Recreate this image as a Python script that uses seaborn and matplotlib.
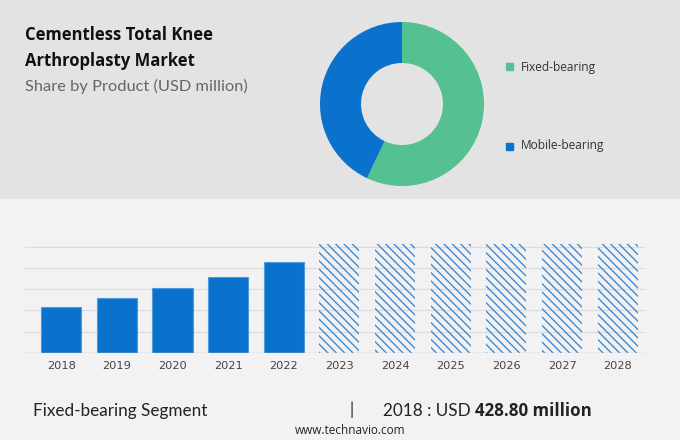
import matplotlib
matplotlib.use("Agg")
import matplotlib.pyplot as plt
import seaborn as sns
import numpy as np

# ---- data ----
years = ["2018", "2019", "2020", "2021", "2022", "2023", "2024", "2025", "2026", "2027", "2028"]
values = [428.8, 514, 608, 718, 860, 1030, 1030, 1030, 1030, 1030, 1030]
n_hist = 5
segments = ["Fixed-bearing", "Mobile-bearing"]
shares = [57, 43]
title_lines = "Cementless Total Knee\nArthroplasty Market"
subtitle = "Share by Product (USD million)"
footer_left = "Fixed-bearing Segment"
footer_year = "2018 : USD "
footer_value = "428.80 million"
source = "www.technavio.com"

BLUE = "#0a72cc"
GREEN = "#55c092"
TOP_BG = "#e3e3e3"
BOT_BG = "#f2f2f3"

sns.set_theme(style="white")
plt.rcParams["hatch.linewidth"] = 0.95

W, H = 680, 440
fig = plt.figure(figsize=(6.8, 4.4), dpi=100)
fig.patch.set_facecolor(BOT_BG)

# top panel background
bg = fig.add_axes([0, 1 - 199 / H, 1, 199 / H])
bg.set_facecolor(TOP_BG)
bg.set_xticks([]); bg.set_yticks([])
for s in bg.spines.values():
    s.set_visible(False)

# titles
fig.text(25 / W, 1 - 48 / H, title_lines, fontsize=12, fontweight="bold",
         family="Open Sans", color="#111111", va="center", ha="left", linespacing=1.5)
fig.text(25 / W, 1 - 86 / H, subtitle, fontsize=11.8, family="Lato",
         color="#666666", va="center", ha="left")

# donut
cx, cy, r = 402, 104, 82
pax = fig.add_axes([(cx - r) / W, 1 - (cy + r) / H, 2 * r / W, 2 * r / H])
pax.pie(shares, colors=[GREEN, BLUE], startangle=90, counterclock=False,
        radius=1, wedgeprops=dict(width=0.5, linewidth=0))
pax.set_xlim(-1, 1); pax.set_ylim(-1, 1)
pax.set_aspect("equal")
pax.axis("off")

# legend
for lab, col, yy in zip(segments, [GREEN, BLUE], [67, 146]):
    fig.patches.append(plt.Rectangle((506 / W, 1 - (yy + 3.5) / H), 7 / W, 7 / H,
                                     transform=fig.transFigure, color=col))
    fig.text(521 / W, 1 - yy / H, lab, fontsize=8.6, family="Open Sans",
             color="#333333", va="center", ha="left")

# bar chart
scale_px = 45.4 / 428.8
ymax = 1100
base_y = 352.7
ax_h = ymax * scale_px
ax = fig.add_axes([25 / W, 1 - base_y / H, 620 / W, ax_h / H])
ax.set_facecolor("none")
sns.barplot(x=years, y=values, color=BLUE, saturation=1, width=0.72, ax=ax, zorder=3)
for i, p in enumerate(ax.patches):
    if i >= n_hist:
        p.set_facecolor("none")
        p.set_edgecolor("#3a86d0")
        p.set_hatch("\\\\\\\\")
        p.set_linewidth(0)
    else:
        p.set_edgecolor("#4a9be0")
        p.set_linewidth(0.8)
ax.set_xlim(-0.65, 10.49)
ax.set_ylim(0, ymax)
for gy in [200, 400, 600, 800, 1000]:
    ax.axhline(gy, color="#dcdcdc", linewidth=0.9, zorder=1)
ax.axhline(0, color="#c8c8c8", linewidth=1.0, zorder=4)
ax.set_yticks([])
ax.set_xlabel(""); ax.set_ylabel("")
ax.tick_params(axis="x", length=0, pad=6, labelsize=8.2, labelcolor="#444444")
for s in ax.spines.values():
    s.set_visible(False)

# footer
fs = 12.3
fig.text(33 / W, 1 - 411 / H, footer_left, fontsize=fs, family="Lato",
         color="#222222", va="center", ha="left")
fig.text(352 / W, 1 - 410 / H, "|", fontsize=12, family="Lato",
         color="#222222", va="center", ha="center")
t1 = fig.text(383 / W, 1 - 411 / H, footer_year, fontsize=fs, family="Lato",
              color="#222222", va="center", ha="left")
fig.canvas.draw()
bb = t1.get_window_extent()
fig.text(bb.x1 / W, 1 - 411 / H, footer_value, fontsize=12.2, family="Open Sans",
         fontweight="bold", color="#222222", va="center", ha="left")
fig.text(350 / W, 1 - 430 / H, source, fontsize=8.5, family="Open Sans",
         color="#222222", va="center", ha="center")

fig.savefig("out.png", dpi=100, facecolor=fig.get_facecolor())
